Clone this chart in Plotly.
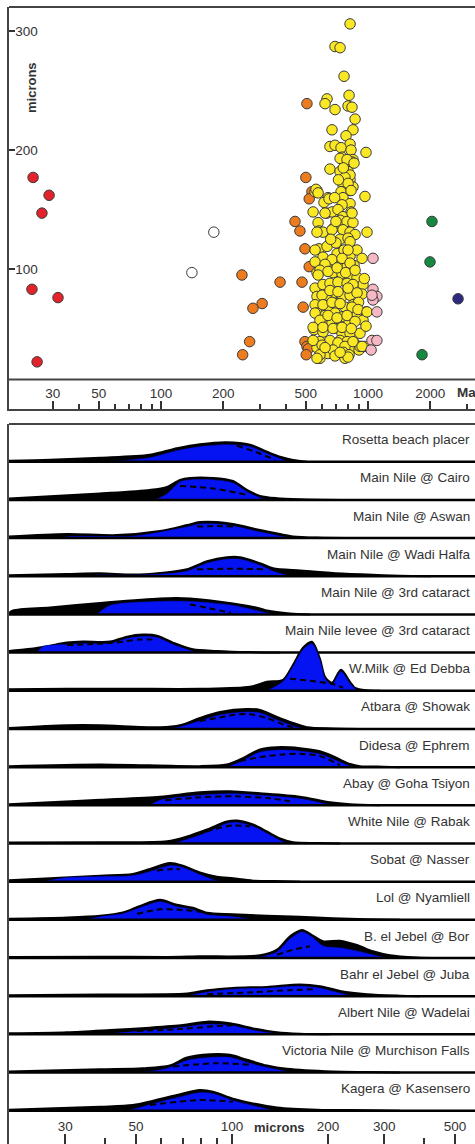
import math
import plotly.graph_objects as go

# ---------------- top panel: zircon ages (Ma) vs grain size (microns) ----------------
red_age = [24.1, 28.8, 26.6, 23.8, 31.8, 25.2]
red_um = [177, 162, 147, 83, 76, 22]

white_age = [180, 141]
white_um = [131, 97]

orange_age = [507, 501, 536, 520, 444, 469, 496, 520, 376, 480, 308, 278, 486, 268,
              246, 248, 496, 507, 515, 503]
orange_um = [239, 177, 165, 159, 140, 132, 117, 102, 89, 89, 71, 67, 68, 39,
             95, 28, 39, 35, 33, 28]

yellow_age = [819, 693, 733, 766, 634, 620, 693, 810, 801, 837, 866, 670, 846, 783, 655, 693,
              819, 741, 828, 978, 749, 846, 837, 774, 655, 733, 801, 792, 819, 757, 846, 749,
              819, 567, 555, 967, 641, 733, 792, 856, 819, 774, 801, 561, 574, 741, 828, 757,
              613, 648, 819, 749, 543, 634, 670, 716, 828, 757, 574, 733, 792, 846, 580, 606,
              678, 757, 819, 866, 989, 733, 801, 580, 634, 709, 766, 819, 885, 936, 567, 606,
              670, 634, 733, 792, 856, 567, 678, 749, 819, 885, 946, 555, 606, 655, 716, 792,
              846, 567, 634, 693, 749, 819, 936, 555, 641, 709, 774, 846, 567, 620, 693, 757,
              885, 978, 549, 600, 670, 716, 810, 946, 606, 749, 819, 915, 586, 655, 733, 792,
              856, 967, 567, 586, 641, 774, 819, 905, 915, 620, 837, 567, 670, 819, 555, 700,
              801, 555, 620, 749, 819, 586, 641, 709, 780, 866, 574, 600, 655, 716, 801, 885,
              960, 900, 606, 670, 733, 837, 895, 989, 555, 586, 641, 709, 792, 866, 978, 543,
              606, 678, 749, 830, 543, 600, 716, 774, 846, 936, 586, 760, 678, 810, 620, 567,
              693, 801, 733, 700, 690, 760, 720, 660]
yellow_um = [306, 287, 286, 262, 243, 239, 234, 246, 237, 236, 226, 217, 217, 212, 203, 204,
             205, 202, 200, 198, 194, 192, 190, 189, 184, 182, 182, 177, 175, 171, 169, 165,
             166, 166, 165, 161, 160, 193, 192, 189, 179, 177, 172, 167, 164, 165, 166, 160,
             156, 159, 155, 154, 148, 147, 148, 150, 148, 144, 139, 141, 140, 139, 132, 131,
             134, 133, 131, 129, 131, 125, 126, 117, 119, 113, 116, 111, 116, 109, 105, 110,
             108, 101, 103, 102, 103, 97, 97, 96, 95, 93, 87, 84, 87, 88, 89, 88,
             87, 77, 78, 80, 77, 78, 79, 70, 69, 71, 68, 70, 63, 61, 63, 60,
             61, 64, 49, 55, 55, 50, 55, 57, 47, 46, 46, 46, 39, 40, 40, 39,
             38, 35, 34, 25, 29, 25, 32, 32, 35, 147, 147, 131, 133, 123, 116, 122,
             116, 106, 104, 109, 105, 99, 98, 101, 97, 99, 95, 78, 82, 81, 84, 80,
             92, 72, 70, 72, 71, 68, 66, 64, 63, 57, 61, 59, 61, 56, 52, 51,
             51, 50, 51, 50, 40, 36, 38, 35, 39, 35, 28, 30, 32, 28, 34, 25,
             27, 26, 30, 140, 160, 185, 175, 125]

pink_age = [1057, 1057, 1104, 1057, 1045, 1104, 1045, 1104, 1035]
pink_um = [109, 83, 77, 74, 78, 64, 40, 40, 32]

green_age = [2037, 1993, 1824]
green_um = [140, 106, 28]

navy_age = [2723]
navy_um = [75]

top_x_ticks = [30, 50, 100, 200, 500, 1000, 2000]
top_x_minor = [20, 40, 60, 70, 80, 90, 300, 400, 600, 700, 800, 900, 3000]
top_y_ticks = [100, 200, 300]

# ---------------- bottom panel: grain-size distributions ----------------
sample_names = ["Rosetta beach placer", "Main Nile @ Cairo", "Main Nile @ Aswan",
                "Main Nile @ Wadi Halfa", "Main Nile @ 3rd cataract",
                "Main Nile levee @ 3rd cataract", "W.Milk @ Ed Debba", "Atbara @ Showak",
                "Didesa @ Ephrem", "Abay @ Goha Tsiyon", "White Nile @ Rabak",
                "Sobat @ Nasser", "Lol @ Nyamliell", "B. el Jebel @ Bor",
                "Bahr el Jebel @ Juba", "Albert Nile @ Wadelai",
                "Victoria Nile @ Murchison Falls", "Kagera @ Kasensero"]

# total distribution (black)
total_um = [
    [20, 26.9, 38.6, 55.3, 67.2, 79.3, 96.4, 113.9, 128.7, 141.4, 155.4, 171.9],
    [20, 38.6, 55.3, 62.6, 68.7, 73.8, 87.2, 100.7, 111.4, 122.4, 138.4, 163.4, 220],
    [20, 30.4, 43.6, 59.5, 72.3, 79.3, 89.7, 100.7, 122.4, 141.4, 155.4, 184.7, 251.9],
    [20, 30.4, 38.6, 48.9, 59.5, 72.3, 83.5, 96.4, 106.0, 122.4, 134.4, 163.4, 207.3, 265.0, 336.2, 420],
    [20, 20.6, 26.9, 38.6, 59.5, 73.8, 100.7, 122.4, 128.7, 152.0, 175.6],
    [20, 20.6, 23.8, 26.9, 30.4, 34.1, 41.5, 46.9, 52.6, 58.2, 65.3, 75.4, 89.7, 113.9, 141.4],
    [20, 30.4, 48.9, 79.3, 113.9, 128.7, 144.5, 155.4, 167.0, 178.1, 188.7, 195.6, 205.9, 219.6, 234.3, 243.0, 265.0, 291.0],
    [20, 30.4, 38.6, 59.5, 68.7, 79.3, 91.7, 111.4, 122.4, 138.4, 155.4, 171.9, 207.3, 251.9],
    [20, 38.6, 79.3, 96.4, 106.0, 122.4, 138.4, 163.4, 188.7, 207.3, 229.3, 251.9, 298, 336.2],
    [20, 26.9, 38.6, 59.5, 79.3, 98.6, 122.4, 163.4, 202.8, 234.3, 291.0],
    [20, 38.6, 62.6, 72.3, 83.5, 96.4, 103.7, 116.4, 128.7, 141.4, 155.4, 184.7, 218],
    [20, 26.9, 38.6, 48.9, 55.3, 63.9, 70.2, 79.3, 89.7, 100.7, 116.4, 144.5, 163.4],
    [20, 30.4, 38.6, 45.5, 51.5, 59.5, 67.2, 75.4, 83.5, 100.7, 128.7, 163.4, 207.3, 265.0, 336.2],
    [20, 38.6, 62.6, 79.3, 122.4, 138.4, 152.0, 165.8, 178.1, 192.9, 218.0, 246.5, 276.7, 312.8, 380.1, 450],
    [20, 38.6, 72.3, 83.5, 100.7, 128.7, 163.4, 188.7, 218.0, 265.0, 336.2, 388.4],
    [20, 30.4, 41.5, 55.3, 70.2, 83.5, 98.6, 116.4, 138.4, 163.4, 202.8],
    [20, 38.6, 52.6, 63.9, 72.3, 85.3, 98.6, 111.4, 128.7, 148.7, 207.3, 265.0, 336.2],
    [20, 38.6, 48.9, 56.6, 67.2, 79.3, 87.2, 100.7, 116.4, 138.4, 184.7, 265.0, 336.2],
]
total_h = [
    [1, 2, 4, 7, 13.5, 17.5, 19.5, 17, 10, 5, 1.7, 0],
    [1.5, 6.5, 10, 13, 20, 22, 22, 19, 10, 4, 1.7, 0.7, 0],
    [1.5, 4, 3, 7, 13, 16, 16, 14, 8, 4, 1.7, 0.5, 0],
    [1, 2.3, 3, 1.7, 3.3, 7, 15, 19, 19, 13, 8, 5.7, 3.3, 1.7, 0.5, 0],
    [1.5, 4, 7, 11.5, 16, 16, 11, 6, 4, 1, 0],
    [1.5, 2, 4, 7, 10, 11, 11, 16, 18, 17, 10, 3.3, 1.7, 0.5, 0],
    [1.5, 2, 2, 2, 4, 9, 11, 26, 43, 49, 32, 14, 8, 21, 9, 3, 0.5, 0],
    [1, 3.7, 3.7, 1.7, 3.7, 11, 17, 20, 19, 12, 6, 1.7, 0.5, 0],
    [1, 2.7, 1, 2.7, 7.7, 17.7, 20, 19, 16, 11, 4.3, 1, 0.5, 0],
    [1, 3, 5.5, 8.6, 13, 14, 12, 8.6, 3, 1, 0],
    [1, 1.3, 2.3, 7, 14, 22, 23, 19, 12, 5, 1.3, 0.5, 0],
    [1.5, 3.3, 6, 7.7, 12.7, 18.7, 16, 9.3, 5, 3.3, 1, 0.5, 0],
    [1, 2.3, 4, 7.3, 14, 20, 15, 12, 7, 5.7, 4, 3, 1.7, 0.5, 0],
    [1, 1.3, 1, 1.7, 2.7, 8.3, 21.7, 28, 23, 16.7, 17.3, 13, 6.7, 2.7, 0.5, 0],
    [1, 1.7, 2.7, 6, 8.3, 9.3, 11.7, 10, 5.3, 2, 0.5, 0],
    [1, 2, 4.3, 6.7, 9.3, 12.7, 11, 6, 2, 0.5, 0],
    [1, 3.3, 4.3, 7, 15, 18.3, 17.7, 12.7, 7, 3.7, 1, 0.5, 0],
    [1, 4, 5.7, 10, 15.7, 20.7, 19, 12, 7.3, 3.3, 1, 0.5, 0],
]

# fraction (blue)
blue_um = [
    [41.5, 55.3, 67.2, 79.3, 96.4, 113.9, 128.7, 141.4, 148.7],
    [57.4, 62.6, 68.7, 73.8, 87.2, 100.7, 111.4, 122.4, 128.7],
    [28.9, 31.1, 41.5, 47.9, 55.3, 72.3, 79.3, 89.7, 100.7, 122.4, 141.4, 152.0],
    [35.9, 37.2, 47.9, 59.5, 72.3, 83.5, 96.4, 106.0, 122.4, 134.4, 148.7, 155.4],
    [37.7, 41.5, 59.5, 73.8, 100.7, 122.4, 134.4],
    [24.5, 25.6, 30.4, 34.1, 41.5, 46.9, 52.6, 58.2, 65.3, 73.8, 77.7],
    [128.7, 144.5, 155.4, 167.0, 178.1, 188.7, 195.6, 205.9, 219.6, 234.3, 246.5],
    [62.6, 68.7, 79.3, 91.7, 111.4, 122.4, 138.4, 155.4, 167.0],
    [96.4, 106.0, 122.4, 138.4, 163.4, 188.7, 207.3, 229.3, 239.4],
    [55.3, 59.5, 79.3, 98.6, 122.4, 163.4, 195.6, 207.3],
    [65.3, 72.3, 83.5, 96.4, 103.7, 116.4, 128.7, 141.4, 148.7],
    [25.6, 30.4, 38.6, 48.9, 55.3, 63.9, 70.2, 79.3, 87.2, 91.7],
    [35.1, 38.6, 45.5, 51.5, 59.5, 67.2, 75.4, 83.5, 100.7, 116.4],
    [119.8, 138.4, 152.0, 165.8, 178.1, 192.9, 218.0, 246.5, 276.7, 306.1],
    [72.3, 83.5, 100.7, 128.7, 163.4, 188.7, 218.0, 239.4],
    [38.6, 46.9, 55.3, 70.2, 83.5, 98.6, 116.4, 134.4, 144.5],
    [51.5, 62.6, 72.3, 85.3, 98.6, 111.4, 128.7, 148.7, 155.4],
    [46.9, 52.6, 56.6, 67.2, 79.3, 87.2, 100.7, 116.4, 131.6, 138.4],
]
blue_h = [
    [0, 4, 11, 15, 17, 15, 8, 3, 0],
    [0, 6, 18, 20, 20, 17, 8, 2, 0],
    [0, 1.5, 1.5, 1.5, 4, 11, 14, 14, 12, 6, 2, 0],
    [0, 1, 1, 2, 5, 13, 17, 17, 11, 5, 1, 0],
    [0, 9, 13, 13, 9, 3, 0],
    [0, 6, 8, 9, 9, 14, 16, 15, 8, 2, 0],
    [0, 9, 24, 41, 47, 30, 12, 6, 19, 7, 0],
    [0, 2, 8, 14, 17, 16, 9, 3, 0],
    [0, 5, 15, 17, 16, 13, 8, 2, 0],
    [0, 5, 10, 11.5, 10, 6.5, 1.5, 0],
    [0, 4, 11, 20, 21, 17, 10, 3, 0],
    [0, 4, 5, 6, 10, 16, 14, 7, 2, 0],
    [0, 3, 6, 12, 18, 13, 10, 5, 3, 0],
    [0, 6, 19, 26, 21, 12, 10, 7, 3, 0],
    [0, 4, 7, 8, 10, 8, 3, 0],
    [0, 2, 4, 7, 10, 9, 4, 1, 0],
    [0, 4, 12, 15, 15, 10, 5, 1, 0],
    [0, 4, 7, 13, 18, 17, 10, 5, 1, 0],
]

# dashed curves
dash_um = [
    [103.7, 118.1, 136.4],
    [68.7, 87.2, 111.4],
    [77.7, 89.7, 100.7],
    [77.7, 100.7, 125.1],
    [73.8, 85.3, 99.3],
    [30.4, 41.5, 51.5, 58.2],
    [152.0, 175.6, 205.9, 222.8],
    [79.3, 89.7, 100.7, 112.1, 128.7, 144.5, 155.4],
    [106.0, 122.4, 144.5, 163.4, 188.7, 218.0],
    [61.8, 79.3, 102.2, 131.6, 152.0],
    [77.7, 87.2, 100.7, 113.9],
    [58.2, 63.9, 68.7],
    [50.4, 59.5, 68.7, 81.1],
    [138.4, 155.4, 175.6],
    [83.5, 116.4, 152.0, 184.7],
    [50.4, 70.2, 87.2, 103.7],
    [65.3, 89.7, 113.9],
    [55.3, 79.3, 100.7],
]
dash_h = [
    [16, 10, 2],
    [14, 11.5, 5],
    [11.5, 12, 11.5],
    [7, 7.5, 7],
    [10, 6, 1.5],
    [7.5, 9.5, 13, 13],
    [12, 10, 7, 3],
    [8, 11, 14, 15, 11, 4.5, 1.7],
    [6, 10, 12.7, 13.3, 11, 2],
    [5, 8, 9, 7, 4],
    [9, 14, 18, 17],
    [11, 12.5, 12.5],
    [6, 10.5, 10, 8],
    [3.3, 8.3, 11.7],
    [2, 4, 6, 7],
    [3.3, 5.5, 8, 9.3],
    [6, 9.3, 7.7],
    [5.7, 10.7, 9],
]

bottom_x_ticks = [30, 50, 100, 200, 300, 500]
bottom_x_minor = [40, 60, 70, 80, 90, 400]

# ---------------- styling ----------------
W, H = 475, 1144
FONT = "Liberation Sans, Arial, Helvetica, sans-serif"
TXT = "#333333"
FRAME = "#444444"
BLUE = "#0512f2"
ROW_GAP = 38.18
LABEL_OFF = 22


def py(px):
    """pixel row (from top) -> paper y"""
    return (H - px) / H


fig = go.Figure()

# top panel points
groups = [
    (red_age, red_um, "#e3232b"),
    (white_age, white_um, "#ffffff"),
    (orange_age, orange_um, "#ec7c1e"),
    (yellow_age, yellow_um, "#fbe824"),
    (pink_age, pink_um, "#f5b8c4"),
    (green_age, green_um, "#14893f"),
    (navy_age, navy_um, "#2d2a80"),
]
for ax, uy, col in groups:
    fig.add_trace(go.Scatter(
        x=ax, y=uy, mode="markers", xaxis="x", yaxis="y",
        marker=dict(size=10.5, color=col, line=dict(color="#3a3a3a", width=1)),
        showlegend=False, hoverinfo="skip"))

# bottom panel ridges
for i, name in enumerate(sample_names):
    base = (17 - i) * ROW_GAP
    tx, th = total_um[i], total_h[i]
    fig.add_trace(go.Scatter(x=[tx[0], tx[-1]], y=[base, base], mode="lines",
                             line=dict(width=0, color="rgba(0,0,0,0)"),
                             xaxis="x2", yaxis="y2", showlegend=False, hoverinfo="skip"))
    fig.add_trace(go.Scatter(x=tx, y=[base + v for v in th], mode="lines",
                             line=dict(color="black", width=2, shape="spline", smoothing=0.8),
                             fill="tonexty", fillcolor="black",
                             xaxis="x2", yaxis="y2", showlegend=False, hoverinfo="skip"))
    bx, bh = blue_um[i], blue_h[i]
    fig.add_trace(go.Scatter(x=[bx[0], bx[-1]], y=[base, base], mode="lines",
                             line=dict(width=0, color="rgba(0,0,0,0)"),
                             xaxis="x2", yaxis="y2", showlegend=False, hoverinfo="skip"))
    fig.add_trace(go.Scatter(x=bx, y=[base + v for v in bh], mode="lines",
                             line=dict(color=BLUE, width=0.5, shape="spline", smoothing=0.8),
                             fill="tonexty", fillcolor=BLUE,
                             xaxis="x2", yaxis="y2", showlegend=False, hoverinfo="skip"))
    fig.add_trace(go.Scatter(x=dash_um[i], y=[base + v for v in dash_h[i]], mode="lines",
                             line=dict(color="black", width=2, dash="6px,4px",
                                       shape="spline", smoothing=0.8),
                             xaxis="x2", yaxis="y2", showlegend=False, hoverinfo="skip"))
    fig.add_trace(go.Scatter(x=[19, 650], y=[base, base], mode="lines",
                             line=dict(color="black", width=2.5),
                             xaxis="x2", yaxis="y2", showlegend=False, hoverinfo="skip"))
    fig.add_annotation(text=name, xref="paper", yref="y2", x=472 / W, y=base + LABEL_OFF,
                       xanchor="right", yanchor="middle", showarrow=False,
                       font=dict(family=FONT, size=13.5, color=TXT))

top_dom = [py(409), py(7)]
bot_dom = [0, py(424)]
x_dom = [9 / W, 1]

fig.update_layout(
    width=W, height=H, margin=dict(l=0, r=0, t=0, b=0),
    paper_bgcolor="white", plot_bgcolor="white",
    font=dict(family=FONT, color=TXT, size=13.5),
    showlegend=False,
    xaxis=dict(domain=x_dom, anchor="y", type="log",
               range=[2 - 152 / 207, 2 + 314 / 207],
               tickmode="array", tickvals=top_x_ticks, ticktext=[str(v) for v in top_x_ticks],
               ticks="inside", ticklen=8, tickwidth=1.5, tickcolor=TXT,
               ticklabelposition="inside", tickfont=dict(size=13.5, color=TXT),
               minor=dict(tickvals=top_x_minor, ticks="inside", ticklen=5, tickwidth=1.5,
                          tickcolor=TXT, showgrid=False),
               showline=True, linecolor=FRAME, linewidth=2,
               showgrid=False, zeroline=False),
    yaxis=dict(domain=top_dom, anchor="x", range=[-17.6, 320.2],
               tickmode="array", tickvals=top_y_ticks,
               ticks="inside", ticklen=6, tickwidth=1.5, tickcolor=TXT,
               ticklabelposition="inside", tickfont=dict(size=13.5, color=TXT),
               showline=True, linecolor=FRAME, linewidth=2,
               showgrid=False, zeroline=False),
    xaxis2=dict(domain=x_dom, anchor="y2", type="log",
                range=[math.log10(20), 2 + 243 / 319],
                tickmode="array", tickvals=bottom_x_ticks,
                ticktext=[str(v) for v in bottom_x_ticks],
                ticks="inside", ticklen=10, tickwidth=1.5, tickcolor=TXT,
                ticklabelposition="inside", tickfont=dict(size=13.5, color=TXT),
                minor=dict(tickvals=bottom_x_minor, ticks="inside", ticklen=6, tickwidth=1.5,
                           tickcolor=TXT, showgrid=False),
                showline=False, showgrid=False, zeroline=False),
    yaxis2=dict(domain=bot_dom, anchor="x2", range=[-33.3, 686.8],
                showticklabels=False, ticks="", showline=True, linecolor=FRAME, linewidth=2,
                showgrid=False, zeroline=False),
)

# frame lines
for ypx in (7, 379.5, 424):
    fig.add_shape(type="line", xref="paper", yref="paper", x0=9 / W, x1=1.05,
                  y0=py(ypx), y1=py(ypx), line=dict(color=FRAME, width=2))

# axis titles as in-plot labels
fig.add_annotation(text="<b>microns</b>", xref="paper", yref="paper", x=32 / W, y=py(88),
                   textangle=-90, showarrow=False, xanchor="center", yanchor="middle",
                   font=dict(family=FONT, size=13, color=TXT))
fig.add_annotation(text="<b>Ma</b>", xref="paper", yref="paper", x=455 / W, y=py(392),
                   showarrow=False, xanchor="left", yanchor="middle",
                   font=dict(family=FONT, size=13.5, color=TXT))
fig.add_annotation(text="<b>microns</b>", xref="paper", yref="paper", x=279 / W, y=py(1127),
                   showarrow=False, xanchor="center", yanchor="middle",
                   font=dict(family=FONT, size=13, color=TXT))

fig.write_html(
    "out.html",
    config={"displayModeBar": False},
    post_script="document.body.style.margin='0';document.body.style.overflow='hidden';",
)
